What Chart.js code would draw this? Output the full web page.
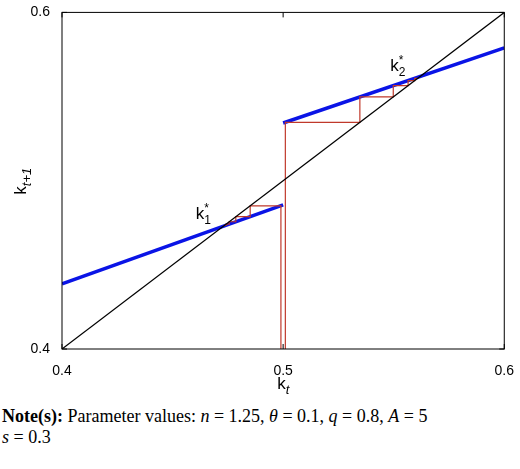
<!DOCTYPE html>
<html><head><meta charset="utf-8">
<script src="https://cdn.jsdelivr.net/npm/chart.js@4/dist/chart.umd.min.js"></script>
<style>body{margin:0;background:#fff}#note{font-family:"Liberation Serif",serif;font-size:18px;margin:6px 0 0 2px;line-height:21px}</style>
</head><body>
<canvas id="c" width="520" height="400" style="width:520px;height:400px"></canvas>
<div id="note"><b>Note(s):</b> Parameter values: <i>n</i> = 1.25, <i>θ</i> = 0.1, <i>q</i> = 0.8, <i>A</i> = 5<br><i>s</i> = 0.3</div>
<script>
const xTicks=[0.4,0.5,0.6];
const yTicks=[0.4,0.6];
const diag=[{x:0.4,y:0.4},{x:0.6,y:0.6}];
const branch1=[{x:0.4,y:0.4387},{x:0.5,y:0.4856}];
const branch2=[{x:0.5,y:0.5343},{x:0.6,y:0.5789}];
const cobLeft=[[0.499,0.4],[0.499,0.4851],[0.4851,0.4851],[0.4851,0.4786],[0.4786,0.4786],[0.4786,0.4756],[0.4756,0.4756],[0.4756,0.4742],[0.4742,0.4742],[0.4742,0.4735],[0.4735,0.4735]];
const cobRight=[[0.501,0.4],[0.501,0.5347],[0.5347,0.5347],[0.5347,0.5498],[0.5498,0.5498],[0.5498,0.5565],[0.5565,0.5565],[0.5565,0.5595],[0.5595,0.5595],[0.5595,0.5608],[0.5608,0.5608]];
const labels=[{t:'k',s:'1',x:0.465,y:0.477},{t:'k',s:'2',x:0.553,y:0.565}];
const pts=a=>a.map(p=>({x:p[0],y:p[1]}));
const ds=(d,c,w)=>({data:d,borderColor:c,borderWidth:w,pointRadius:0,showLine:true,fill:false});
const deco={id:'deco',afterDraw(ch){const c=ch.ctx,a=ch.chartArea,xs=ch.scales.x,ys=ch.scales.y;
c.save();c.strokeStyle='#000';c.lineWidth=1;c.strokeRect(a.left,a.top,a.right-a.left,a.bottom-a.top);
xTicks.forEach(v=>{const px=xs.getPixelForValue(v);c.beginPath();c.moveTo(px,a.bottom);c.lineTo(px,a.bottom-5);c.moveTo(px,a.top);c.lineTo(px,a.top+5);c.stroke();});
yTicks.forEach(v=>{const py=ys.getPixelForValue(v);c.beginPath();c.moveTo(a.left,py);c.lineTo(a.left+5,py);c.moveTo(a.right,py);c.lineTo(a.right-5,py);c.stroke();});
c.fillStyle='#000';c.textBaseline='alphabetic';
labels.forEach(l=>{const px=xs.getPixelForValue(l.x),py=ys.getPixelForValue(l.y);c.font='17px "Liberation Sans"';c.fillText(l.t,px-10,py);const w=c.measureText(l.t).width;c.font='12px "Liberation Sans"';c.fillText('*',px-10+w,py-7);c.fillText(l.s,px-10+w,py+5);});
// x title
c.font='17px "Liberation Sans"';const cx=(a.left+a.right)/2;c.fillText('k',cx-6,389);let w=c.measureText('k').width;c.font='italic 13px "Liberation Sans"';c.fillText('t',cx-6+w,394);
// y title
c.translate(26,(a.top+a.bottom)/2+14);c.rotate(-Math.PI/2);c.font='17px "Liberation Sans"';c.fillText('k',0,0);w=c.measureText('k').width;c.font='italic 13px "Liberation Sans"';c.fillText('t+1',w,5);
c.restore();}};
new Chart(document.getElementById('c'),{type:'scatter',
data:{datasets:[ds(diag,'#000',1.2),ds(pts(cobLeft),'#c0392b',1.2),ds(pts(cobRight),'#c0392b',1.2),ds(branch1,'#0a14e6',3.5),ds(branch2,'#0a14e6',3.5)]},
options:{responsive:false,animation:false,layout:{padding:{top:8,right:13,left:0,bottom:0}},
plugins:{legend:{display:false},tooltip:{enabled:false}},
scales:{
x:{type:'linear',min:0.4,max:0.6,grid:{display:false},border:{display:false},
afterBuildTicks(s){s.ticks=xTicks.map(v=>({value:v}));},afterFit(s){s.height=51;},
ticks:{color:'#000',font:{family:'Liberation Sans',size:14},padding:6,callback:v=>String(v)}},
y:{type:'linear',min:0.4,max:0.6,grid:{display:false},border:{display:false},
afterBuildTicks(s){s.ticks=yTicks.map(v=>({value:v}));},afterFit(s){s.width=62;},
ticks:{color:'#000',font:{family:'Liberation Sans',size:14},padding:4,callback:v=>String(v)}}}},
plugins:[deco]});
</script></body></html>
